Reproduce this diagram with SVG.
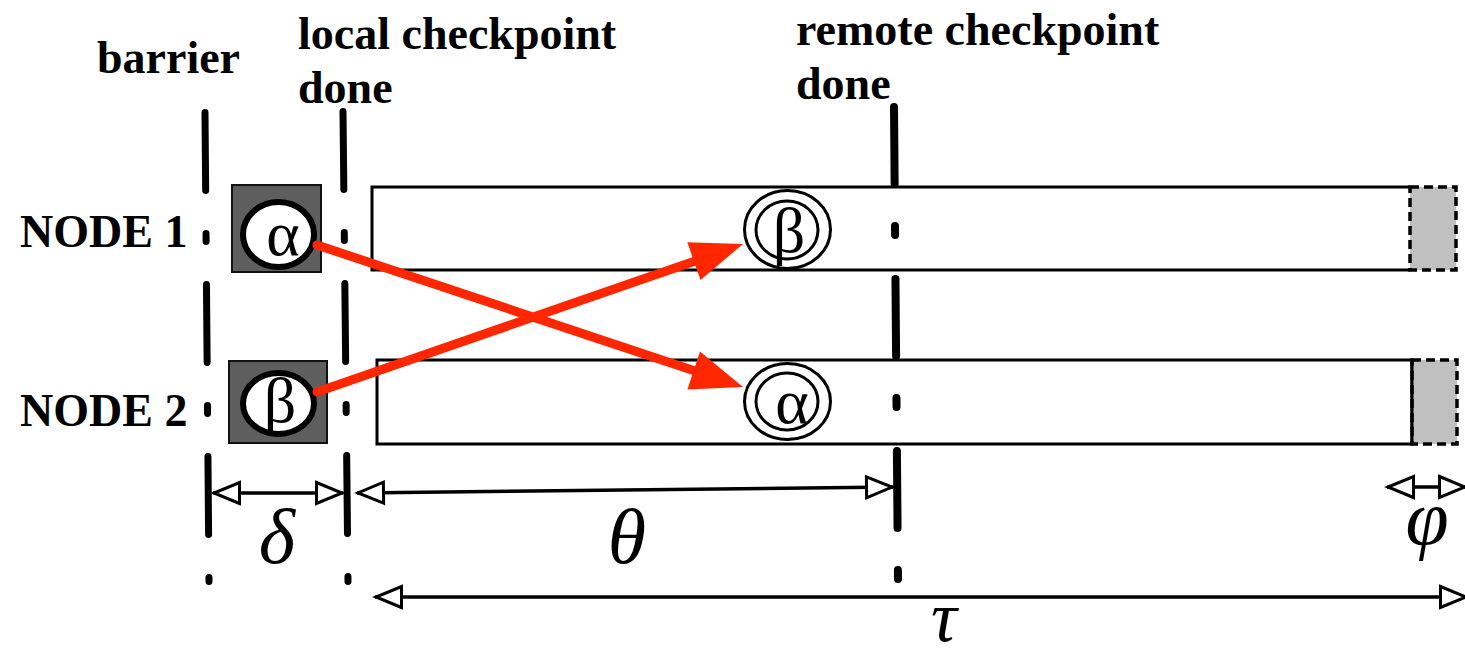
<svg xmlns="http://www.w3.org/2000/svg" width="1465" height="657" viewBox="0 0 1465 657">
  <style>
    .label { font-family: "Liberation Serif", "Times New Roman", serif; font-weight: bold; font-size: 46px; fill: #000; }
    .greek { font-family: "Liberation Serif", "Times New Roman", serif; font-size: 64px; fill: #000; text-anchor: middle; }
    .math { font-family: "Liberation Serif", "Times New Roman", serif; font-style: italic; font-size: 78px; fill: #000; text-anchor: middle; }
    .phase { fill: none; stroke: #000; stroke-linecap: round; stroke-dasharray: 78 43 8 43; }
    .bar { fill: #fff; stroke: #000; stroke-width: 3; }
    .slack { fill: #c0c0c0; stroke: #000; stroke-width: 3.5; stroke-dasharray: 9 5; }
    .proc { fill: #5e5e5e; stroke: #111; stroke-width: 2; }
    .ring { fill: #fff; stroke: #000; stroke-width: 6; }
    .dring { fill: #fff; stroke: #000; stroke-width: 3; }
    .msg { stroke: #ff2600; stroke-width: 9; stroke-linecap: round; fill: none; }
    .head { fill: #ff2600; }
    .dim { stroke: #000; stroke-width: 3.5; fill: none; marker-start: url(#open); marker-end: url(#open); }
  </style>
  <defs>
    <marker id="open" markerUnits="userSpaceOnUse" viewBox="0 0 28 24" refX="28" refY="12" markerWidth="28" markerHeight="24" orient="auto-start-reverse" overflow="visible">
      <path d="M1.5,1.5 L27,12 L1.5,22.5 Z" fill="#fff" stroke="#000" stroke-width="3" stroke-linejoin="miter"/>
    </marker>
  </defs>

  <rect width="1465" height="657" fill="#fff"/>

  <!-- phase labels -->
  <g id="labels">
    <text class="label" x="97" y="73">barrier</text>
    <text class="label" x="298" y="49">local checkpoint</text>
    <text class="label" x="298" y="103">done</text>
    <text class="label" x="796" y="45">remote checkpoint</text>
    <text class="label" x="796" y="99">done</text>
    <text class="label" x="20" y="247">NODE 1</text>
    <text class="label" x="20" y="426">NODE 2</text>
  </g>

  <!-- timelines of the two nodes -->
  <g id="node1">
    <path class="bar" d="M1410,187 H372 V270 H1410"/>
    <rect class="slack" x="1410" y="187" width="46" height="83"/>
    <rect class="proc" x="232" y="185" width="89" height="87"/>
    <ellipse class="ring" cx="278.5" cy="234.5" rx="35.5" ry="32.5"/>
    <text class="greek" x="283" y="255">α</text>
    <ellipse class="dring" cx="787.5" cy="229.5" rx="43" ry="39"/>
    <ellipse class="dring" cx="787" cy="230" rx="31" ry="29"/>
    <text class="greek" x="789" y="252">β</text>
  </g>

  <g id="node2">
    <rect class="bar" x="377" y="360" width="1035" height="84"/>
    <rect class="slack" x="1412" y="360" width="45" height="84"/>
    <line x1="1412" y1="360" x2="1412" y2="444" stroke="#000" stroke-width="3"/>
    <rect class="proc" x="229" y="361" width="98" height="82"/>
    <ellipse class="ring" cx="278.5" cy="403.5" rx="35.5" ry="30.5"/>
    <text class="greek" x="280" y="422">β</text>
    <ellipse class="dring" cx="787.5" cy="401.5" rx="43" ry="38"/>
    <ellipse class="dring" cx="787" cy="401.5" rx="31" ry="28.5"/>
    <text class="greek" x="792" y="423">α</text>
  </g>

  <!-- phase boundaries -->
  <g id="boundaries">
    <path class="phase" stroke-width="7" d="M205,112.5 L209,581.5"/>
    <path class="phase" stroke-width="7" d="M343,111.5 L348,581.5"/>
    <path class="phase" stroke-width="8" d="M894,107 L898,580" style="stroke-dasharray: 77 42 9 44"/>
  </g>

  <!-- checkpoint exchange -->
  <g id="connectors">
    <line class="msg" x1="317" y1="245" x2="698" y2="372"/>
    <polygon class="head" points="743,387 687.4,389.6 700,351.6"/>
    <line class="msg" x1="317" y1="392" x2="698" y2="260"/>
    <polygon class="head" points="743,244 700.5,280 687.3,242.2"/>

    <path class="dim" d="M213,493 L343,493"/>
    <path class="dim" d="M357,493 L893,487"/>
    <path class="dim" d="M375,597 L1467,597"/>
    <path class="dim" d="M1387,487 L1466,487"/>
  </g>

  <!-- interval symbols -->
  <g id="symbols">
    <text class="math" x="277" y="563">δ</text>
    <text class="math" x="627" y="563">θ</text>
    <text class="math" x="1427" y="544">φ</text>
    <text class="math" x="944" y="641" style="font-size: 72px">τ</text>
  </g>
</svg>
